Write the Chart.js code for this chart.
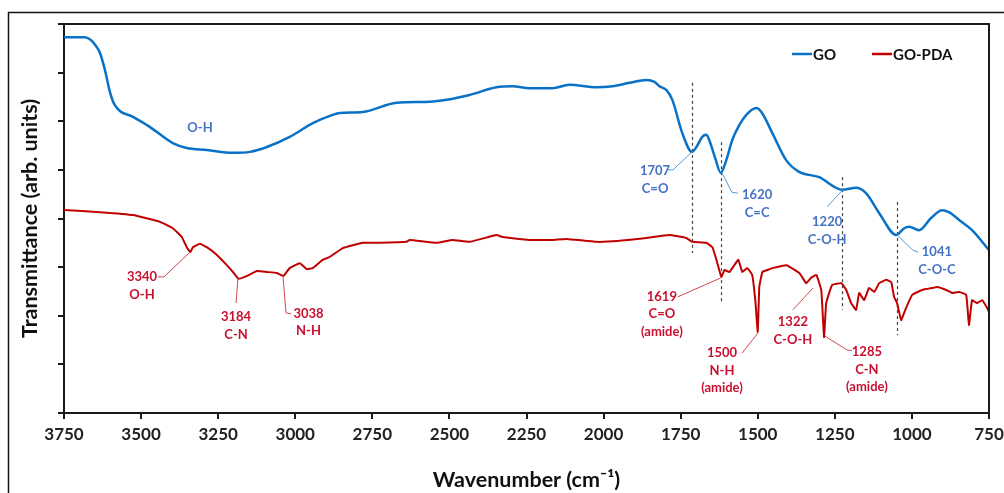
<!DOCTYPE html>
<html><head><meta charset="utf-8">
<script src="https://cdn.jsdelivr.net/npm/chart.js@4.4.1/dist/chart.umd.min.js"></script>
<style>html,body{margin:0;padding:0;background:#fff;}</style>
</head><body>
<canvas id="c" width="1004" height="493"></canvas>
<script>
// ---- data (wavenumber in cm^-1, transmittance in arb. units) ----
const goWavenumber = [3750,3682,3665,3650,3633,3617,3601,3585,3526,3471,3397,3352,3287,3202,3147,3092,3018,2943,2879,2856,2781,2671,2564,2509,2435,2347,2295,2240,2166,2111,2023,1971,1916,1861,1835,1819,1796,1777,1745,1713,1699,1680,1667,1657,1638,1620,1602,1583,1560,1537,1505,1486,1453,1408,1366,1301,1226,1181,1149,1106,1051,1025,1009,977,938,902,880,847,805,750];
const goValue = [7.73,7.73,7.68,7.58,7.40,7.05,6.60,6.33,6.09,5.88,5.55,5.45,5.41,5.35,5.37,5.47,5.68,5.96,6.13,6.17,6.19,6.38,6.40,6.44,6.54,6.70,6.72,6.68,6.68,6.75,6.70,6.72,6.79,6.85,6.81,6.72,6.64,6.44,5.76,5.37,5.47,5.68,5.72,5.61,5.24,4.94,5.20,5.61,5.92,6.13,6.27,6.17,5.76,5.20,4.96,4.85,4.59,4.63,4.52,4.11,3.66,3.80,3.83,3.76,4.01,4.17,4.13,3.97,3.76,3.35];

const pdaWavenumber = [3750,3633,3526,3439,3397,3368,3352,3340,3332,3309,3287,3254,3222,3202,3184,3156,3124,3092,3060,3038,3018,2985,2963,2943,2911,2888,2846,2781,2726,2639,2629,2541,2490,2435,2347,2328,2240,2166,2120,2023,1949,1861,1787,1732,1712,1667,1647,1634,1618,1608,1592,1576,1563,1550,1534,1518,1508,1500,1495,1485,1469,1453,1407,1365,1343,1327,1310,1294,1285,1278,1259,1229,1213,1197,1181,1171,1155,1139,1122,1106,1083,1067,1058,1048,1035,1019,999,967,934,918,889,870,847,824,815,805,789,772,756,750];
const pdaValue = [4.175,4.13,4.07,3.93,3.80,3.62,3.41,3.31,3.41,3.48,3.41,3.25,3.04,2.90,2.76,2.82,2.92,2.90,2.88,2.82,2.98,3.08,2.96,2.98,3.15,3.21,3.39,3.50,3.50,3.52,3.56,3.50,3.56,3.52,3.66,3.62,3.56,3.56,3.58,3.52,3.54,3.60,3.66,3.60,3.52,3.50,3.41,3.15,2.80,2.94,2.90,3.04,3.15,2.90,2.98,2.84,2.32,1.67,2.59,2.90,2.94,2.98,3.04,2.88,2.67,2.78,2.84,2.53,1.56,2.26,2.63,2.67,2.53,2.26,2.12,2.47,2.32,2.57,2.49,2.67,2.74,2.69,2.39,2.26,1.91,2.16,2.43,2.53,2.57,2.59,2.53,2.47,2.49,2.43,1.81,2.32,2.26,2.32,2.16,2.08];

const seriesNames = ['GO','GO-PDA'];
const xTickMin = 750, xTickMax = 3750, xTickStep = 250;

// dashed marker lines: wavenumber, top value, bottom value
const markWavenumber = [1714, 1620, 1226, 1049];
const markTop = [6.79, 5.57, 4.85, 4.34];
const markBottom = [3.29, 2.28, 2.12, 1.60];

// peak labels (series index, text lines, position in data units)
const peakLabels = [
  {s:0, text:['O-H'], wn:3309, v:5.86},
  {s:0, text:['1707','C=O'], wn:1833, v:4.98},
  {s:0, text:['1620','C=C'], wn:1502, v:4.48},
  {s:0, text:['1220','C-O-H'], wn:1275, v:3.93},
  {s:0, text:['1041','C-O-C'], wn:919, v:3.31},
  {s:1, text:['3340','O-H'], wn:3497, v:2.80},
  {s:1, text:['3184','C-N'], wn:3192, v:1.97},
  {s:1, text:['3038','N-H'], wn:2957, v:2.04},
  {s:1, text:['1619','C=O','(amide)'], wn:1811, v:2.39},
  {s:1, text:['1500','N-H','(amide)'], wn:1616, v:1.23},
  {s:1, text:['1322','C-O-H'], wn:1386, v:1.87},
  {s:1, text:['1285','C-N','(amide)'], wn:1146, v:1.25}
];
// leader lines (series index, polyline in data units)
const leaderLines = [
  {s:0, pts:[[1794,5.00],[1775,5.00],[1713,5.37]]},
  {s:0, pts:[[1616,4.94],[1584,4.54],[1564,4.52]]},
  {s:0, pts:[[1275,4.24],[1224,4.59]]},
  {s:0, pts:[[1048,3.66],[997,3.35],[980,3.31]]},
  {s:1, pts:[[3445,2.80],[3426,2.80],[3341,3.31]]},
  {s:1, pts:[[3186,2.76],[3192,2.26]]},
  {s:1, pts:[[3040,2.82],[3030,2.06],[3014,2.04]]},
  {s:1, pts:[[1759,2.39],[1619,2.78]]},
  {s:1, pts:[[1551,1.23],[1499,1.65]]},
  {s:1, pts:[[1386,2.12],[1321,2.57]]},
  {s:1, pts:[[1282,1.58],[1211,1.30],[1194,1.28]]}
];

const lineColors = ['#0a72c6','#c00000'];
const textColors = ['#4472c4','#c8102e'];
const leaderColors = ['#5b9bd5','#d0484b'];

const toPts = (xs, ys) => xs.map((x, i) => ({x: x, y: ys[i]}));

const decor = {
  id: 'decor',
  beforeDatasetsDraw(chart) {
    const {ctx, scales: {x, y}} = chart;
    ctx.save();
    ctx.setLineDash([3, 3]);
    ctx.strokeStyle = '#444';
    ctx.lineWidth = 1.2;
    markWavenumber.forEach((w, i) => {
      const px = Math.round(x.getPixelForValue(w)) + 0.5;
      ctx.beginPath();
      ctx.moveTo(px, y.getPixelForValue(markTop[i]));
      ctx.lineTo(px, y.getPixelForValue(markBottom[i]));
      ctx.stroke();
    });
    ctx.restore();
  },
  afterDraw(chart) {
    const {ctx, chartArea: a, scales: {x, y}} = chart;
    ctx.save();
    // outer frame
    ctx.strokeStyle = '#111';
    ctx.lineWidth = 1.5;
    ctx.strokeRect(8.5, 12.5, 1010, 500);
    // plot box top + right
    ctx.strokeStyle = '#1a1a1a';
    ctx.lineWidth = 2;
    ctx.beginPath();
    ctx.moveTo(a.left, a.top);
    ctx.lineTo(a.right, a.top);
    ctx.lineTo(a.right, a.bottom);
    ctx.stroke();
    // leader lines
    ctx.lineWidth = 1;
    leaderLines.forEach(l => {
      ctx.strokeStyle = leaderColors[l.s];
      ctx.beginPath();
      l.pts.forEach((p, i) => {
        const px = x.getPixelForValue(p[0]), py = y.getPixelForValue(p[1]);
        if (i === 0) ctx.moveTo(px, py); else ctx.lineTo(px, py);
      });
      ctx.stroke();
    });
    // peak labels
    ctx.font = 'bold 13px Lato';
    ctx.textAlign = 'center';
    ctx.textBaseline = 'middle';
    peakLabels.forEach(l => {
      ctx.fillStyle = textColors[l.s];
      const px = x.getPixelForValue(l.wn), py = y.getPixelForValue(l.v);
      l.text.forEach((t, i) => ctx.fillText(t, px, py + i * 17.5));
    });
    // legend
    const ds = chart.data.datasets;
    const legendX = [792, 872];
    ctx.font = 'bold 15px Lato';
    ctx.textAlign = 'left';
    ds.forEach((d, i) => {
      const ly = 54;
      ctx.strokeStyle = d.borderColor;
      ctx.lineWidth = 2.5;
      ctx.beginPath();
      ctx.moveTo(legendX[i], ly);
      ctx.lineTo(legendX[i] + 20, ly);
      ctx.stroke();
      ctx.fillStyle = '#111';
      ctx.fillText(d.label, legendX[i] + 21, ly + 1);
    });
    ctx.restore();
  }
};

new Chart(document.getElementById('c'), {
  type: 'line',
  data: {
    datasets: [
      {label: seriesNames[0], data: toPts(goWavenumber, goValue), borderColor: lineColors[0], borderWidth: 2.5, pointRadius: 0, cubicInterpolationMode: 'monotone', fill: false},
      {label: seriesNames[1], data: toPts(pdaWavenumber, pdaValue), borderColor: lineColors[1], borderWidth: 2, pointRadius: 0, tension: 0.1, fill: false}
    ]
  },
  options: {
    responsive: false,
    animation: false,
    devicePixelRatio: 1,
    layout: {padding: {top: 24, right: 15, left: 0, bottom: 0}},
    plugins: {legend: {display: false}, tooltip: {enabled: false}},
    scales: {
      x: {
        type: 'linear', reverse: true, min: xTickMin, max: xTickMax,
        afterFit: s => { s.height = 80; s.paddingLeft = 0; s.paddingRight = 0; },
        ticks: {stepSize: xTickStep, color: '#222', font: {family: 'Lato', size: 17, weight: 'bold'}, padding: 5, maxRotation: 0, autoSkip: false, callback: v => String(v)},
        grid: {display: true, drawOnChartArea: false, drawTicks: true, tickLength: 6, color: '#1a1a1a', lineWidth: 2},
        border: {display: true, color: '#1a1a1a', width: 2},
        title: {display: true, text: 'Wavenumber (cm\u207B\u00B9)', color: '#111', font: {family: 'Lato', size: 21.5, weight: 'bold'}, padding: {top: 0, bottom: 0}}
      },
      y: {
        type: 'linear', min: 0, max: 8,
        afterFit: s => { s.width = 64; },
        ticks: {display: false, stepSize: 1},
        grid: {display: true, drawOnChartArea: false, drawTicks: true, tickLength: 6, color: '#1a1a1a', lineWidth: 2},
        border: {display: true, color: '#1a1a1a', width: 2},
        title: {display: true, text: 'Transmittance (arb. units)', color: '#111', font: {family: 'Lato', size: 21.5, weight: 'bold'}, padding: {top: 17, bottom: 0}}
      }
    }
  },
  plugins: [decor]
});
</script>
</body></html>
